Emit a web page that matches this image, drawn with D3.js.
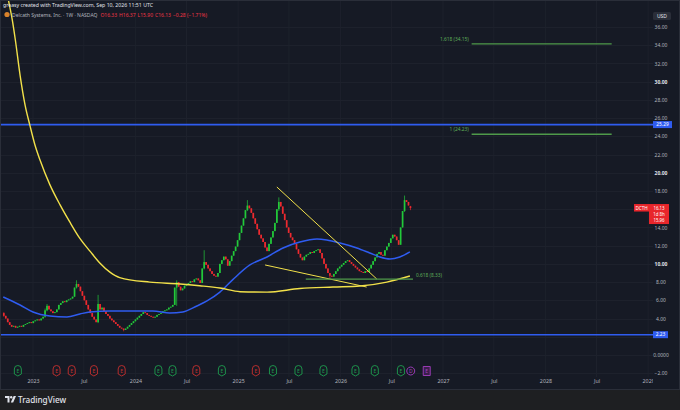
<!DOCTYPE html>
<html><head><meta charset="utf-8">
<script src="https://cdn.jsdelivr.net/npm/d3@7"></script>
<style>
html,body{margin:0;padding:0;background:#161a25;overflow:hidden}
svg{display:block;font-family:"Noto Sans","DejaVu Sans",sans-serif}
</style>
</head><body><svg id="c" width="680" height="410"></svg>
<script>
// ---------------- DATA ----------------
const ticker = "DCTH";
const titleText = "Delcath Systems, Inc. · 1W · NASDAQ";
const creditText = "greasy created with TradingView.com, Sep 10, 2026 11:51 UTC";
const firstWeek = "2022-09-19";
const firstOpen = 4.6;
// weekly closes (index 0 .. 206), last bar given separately
const closes = [
  4.3, 4.0, 3.6, 3.3, 3.1,
  3.2, 3.0, 3.1, 3.2, 3.1, 3.3,
  3.4, 3.5, 3.6, 3.5, 3.7, 3.8, 3.9, 3.8, 4.0, 4.2,
  4.9, 5.4, 5.0,
  4.8, 4.6, 4.7, 5.0,
  5.5, 5.7, 5.9, 5.8, 6.0, 6.1, 6.2, 6.4,
  7.4, 7.8, 7.5,
  7.0, 6.5, 6.0, 5.5, 5.0, 4.6, 4.2, 3.9, 3.6,
  5.6, 5.0, 5.2,
  4.8, 4.5, 4.3, 4.0, 3.8, 3.6, 3.4, 3.2, 3.0, 2.9, 2.75,
  2.9, 3.1, 3.3, 3.5, 3.7, 3.9, 4.1, 4.3, 4.5, 4.7,
  4.6, 4.4, 4.3, 4.2, 4.1, 4.2,
  4.4, 4.5, 4.6, 4.8, 4.9, 5.0, 5.2, 5.3, 5.5,
  7.4, 8.0,
  7.5, 7.1, 7.3,
  7.6, 7.8, 7.9, 8.1, 8.0, 8.3, 8.4, 8.2, 7.9,
  9.5, 10.2, 9.9,
  9.5, 9.2, 8.9, 8.7, 8.6, 9.0,
  10.0, 10.4, 10.8, 10.5,
  9.8,
  10.3, 10.9, 11.4, 11.9,
  12.6, 13.4, 14.2,
  15.0, 15.9, 16.4, 16.1,
  15.6, 15.0, 14.4, 13.8, 13.2, 12.8, 12.4,
  11.8, 11.4,
  12.2, 12.9, 13.6, 14.5,
  16.0, 16.8, 16.3,
  15.5, 14.8, 14.0, 13.4, 12.9, 12.6,
  12.2, 11.6, 11.1, 10.7, 10.4,
  10.8, 11.0, 11.1, 11.3, 11.2, 11.4, 11.5, 11.6,
  11.2, 10.6, 10.0, 9.5, 9.0, 8.7, 8.6,
  8.9, 9.2, 9.5, 9.7, 9.9, 10.1, 10.3, 10.4,
  10.2, 10.0, 9.8, 9.6, 9.4, 9.2, 9.1,
  9.0, 9.2, 9.1,
  9.5, 9.9, 10.3, 10.7, 11.1,
  11.3, 11.0, 10.9,
  11.5, 11.9, 12.3, 12.8, 13.2, 13.0, 12.6, 12.1,
  14.0, 15.8, 17.0, 16.8, 16.41
];
// notable wicks: index -> [high, low]
const wicks = {0:[4.7,4.2], 21:[5.1,4.1], 22:[5.6,4.8], 37:[8.2,7.3], 48:[6.6,3.5], 61:[2.9,2.6],
  88:[8.2,5.4], 102:[11.5,9.4], 124:[17.0,15.8], 140:[17.3,15.8], 166:[8.8,8.4], 204:[17.5,15.7]};
const lastBar = {open:16.33, high:16.37, low:15.90, close:16.13, change:-0.28, pct:-1.71};
const sideTags = ["16.13", "1d 8h", "15.96"];

// slow moving average (yellow)
const maSlow = [
  ["2022-10-05",39.0],["2022-10-19",36.8],["2022-10-30",34.6],["2022-11-16",30.7],["2022-12-04",27.4],
  ["2022-12-21",25.2],["2023-01-08",23.05],["2023-01-26",21.4],["2023-03-02",18.7],["2023-04-07",16.5],
  ["2023-05-12",14.6],["2023-06-17",12.8],["2023-07-23",11.4],["2023-08-27",10.1],["2023-10-02",9.1],
  ["2023-11-06",8.5],["2024-02-21",8.0],["2024-06-08",7.8],["2024-08-17",7.6],["2024-10-28",7.35],
  ["2025-01-08",6.95],["2025-04-14",6.9],["2025-08-09",7.3],["2025-12-05",7.46],["2026-03-11",7.57],
  ["2026-06-15",8.0],["2026-09-05",8.67]
];
// fast moving average (blue)
const maFast = [
  ["2022-09-17",6.37],["2022-11-16",5.49],["2023-01-01",4.72],["2023-03-02",4.28],["2023-05-02",4.17],
  ["2023-06-17",4.5],["2023-07-23",4.72],["2023-10-02",4.83],["2023-12-23",4.83],["2024-03-03",4.83],
  ["2024-05-03",4.61],["2024-06-18",4.72],["2024-08-07",5.38],["2024-09-12",5.93],["2024-10-28",6.9],
  ["2024-12-14",8.3],["2025-02-12",9.88],["2025-04-14",10.76],["2025-06-10",11.75],["2025-08-09",12.4],
  ["2025-10-09",12.73],["2025-11-13",12.62],["2025-12-30",12.29],["2026-02-28",11.75],["2026-04-15",11.2],
  ["2026-05-21",10.76],["2026-06-26",10.54],["2026-07-31",10.76],["2026-09-05",11.31]
];
const hLines = [25.29, 2.23];
const fibs = [
  {label:"0.618 (8.33)", value:8.33, from:"2025-08-30", to:"2026-09-16", labelSide:"right"},
  {label:"1 (24.23)", value:24.23, from:"2027-04-13", to:"2028-08-24", labelSide:"left"},
  {label:"1.618 (34.15)", value:34.15, from:"2027-04-13", to:"2028-08-24", labelSide:"left"}
];
const trendLines = [
  [["2025-05-19",18.44],["2026-05-10",8.34]],
  [["2025-04-07",9.88],["2026-04-04",7.46]]
];
const events = [
  ["2022-11-08","E","up"],["2023-03-26","E","down"],["2023-05-19","E","down"],["2023-08-06","E","down"],
  ["2023-11-13","E","down"],["2024-03-23","E","up"],["2024-05-12","E","up"],["2024-08-05","E","down"],
  ["2024-11-04","E","up"],["2025-03-05","E","down"],["2025-05-05","E","up"],["2025-08-04","E","up"],
  ["2025-11-01","E","up"],["2026-02-23","E","up"],["2026-05-03","E","up"],["2026-08-04","E","up"],
  ["2026-09-08","D","other"],["2026-11-04","E","future"]
];
const gridTicks = [36,34,32,30,28,26,24,22,20,18,16,14,12,10,8,6,4,2,0,-2];
// labels shown on the price scale (16 and 2 are hidden behind price tags)
const priceTicks = [36,34,32,30,28,26,24,22,20,18,14,12,10,8,6,4,0,-2];
const timeTicks = ["2023-01-01","2023-07-01","2024-01-01","2024-07-01","2025-01-01","2025-07-01",
  "2026-01-01","2026-07-01","2027-01-01","2027-07-01","2028-01-01","2028-07-01","2029-01-01"];
const timeTickLabels = ["2023","Jul","2024","Jul","2025","Jul","2026","Jul","2027","Jul","2028","Jul","2029"];

// ---------------- CHART ----------------
const W = 680, H = 410;
const plotRight = 653, plotBottom = 377;
const svg = d3.select("#c");
const parse = d3.utcParse("%Y-%m-%d");
const x = d3.scaleUtc().domain([parse("2023-01-01"), parse("2027-01-01")]).range([33, 443]);
const y = d3.scaleLinear().domain([0, 36]).range([355, 27]);

const C = {bg:"#161a25", grid:"#1d212c", text:"#b2b5be", up:"#22c93a", down:"#ee2a2f",
  yellow:"#f2e14a", blue:"#2f5cf0", fib:"#4f9a4a"};

svg.append("rect").attr("width", W).attr("height", H).attr("fill", C.bg);

const defs = svg.append("defs");
defs.append("clipPath").attr("id","plotclip").append("rect")
  .attr("x",0).attr("y",0).attr("width",plotRight).attr("height",plotBottom);
defs.append("clipPath").attr("id","xclip").append("rect")
  .attr("x",0).attr("y",plotBottom).attr("width",plotRight).attr("height",14);

// grid
const grid = svg.append("g").attr("clip-path","url(#plotclip)");
grid.selectAll(".vg").data(timeTicks).join("line")
  .attr("x1", d => x(parse(d))).attr("x2", d => x(parse(d)))
  .attr("y1", 0).attr("y2", plotBottom).attr("stroke", C.grid).attr("stroke-width", 1);
grid.selectAll(".hg").data(gridTicks).join("line")
  .attr("x1", 0).attr("x2", plotRight)
  .attr("y1", d => Math.round(y(d)) + 0.5).attr("y2", d => Math.round(y(d)) + 0.5)
  .attr("stroke", C.grid).attr("stroke-width", 1);

// candles
const start = parse(firstWeek);
const bars = closes.map((c, i) => {
  const o = i === 0 ? firstOpen : closes[i - 1];
  const w = wicks[i];
  return {date: d3.utcDay.offset(start, 7 * i), o, c,
    h: w && w[0] != null ? w[0] : Math.max(o, c), l: w && w[1] != null ? w[1] : Math.min(o, c)};
});
bars.push({date: d3.utcDay.offset(start, 7 * closes.length), o:lastBar.open, c:lastBar.close, h:lastBar.high, l:lastBar.low});

const plot = svg.append("g").attr("clip-path","url(#plotclip)");
const bw = 1.7;
const cg = plot.append("g");
cg.selectAll(".wick").data(bars).join("line")
  .attr("x1", d => x(d.date)).attr("x2", d => x(d.date))
  .attr("y1", d => y(d.h)).attr("y2", d => y(d.l))
  .attr("stroke", d => d.c >= d.o ? C.up : C.down).attr("stroke-width", 0.7);
cg.selectAll(".body").data(bars).join("rect")
  .attr("x", d => x(d.date) - bw / 2).attr("width", bw)
  .attr("y", d => y(Math.max(d.o, d.c)))
  .attr("height", d => Math.max(0.9, Math.abs(y(d.o) - y(d.c))))
  .attr("fill", d => d.c >= d.o ? C.up : C.down);

// horizontal lines
plot.selectAll(".hl").data(hLines).join("line")
  .attr("x1", 0).attr("x2", plotRight).attr("y1", d => y(d)).attr("y2", d => y(d))
  .attr("stroke", C.blue).attr("stroke-width", 1.6);

// moving averages
const line = d3.line().x(d => x(parse(d[0]))).y(d => y(d[1])).curve(d3.curveMonotoneX);
plot.append("path").datum(maFast).attr("d", line).attr("fill","none")
  .attr("stroke", C.blue).attr("stroke-width", 1.5);
plot.append("path").datum(maSlow).attr("d", line).attr("fill","none")
  .attr("stroke", C.yellow).attr("stroke-width", 1.4);

// trend lines
const tl = d3.line().x(d => x(parse(d[0]))).y(d => y(d[1]));
plot.selectAll(".tl").data(trendLines).join("path").attr("d", tl)
  .attr("fill","none").attr("stroke", C.yellow).attr("stroke-width", 1);

// fib levels
fibs.forEach(f => {
  plot.append("line").attr("x1", x(parse(f.from))).attr("x2", x(parse(f.to)))
    .attr("y1", y(f.value)).attr("y2", y(f.value)).attr("stroke", C.fib).attr("stroke-width", 1.3);
  const t = plot.append("text").attr("font-size", 4.8).attr("fill", "#5fae5a").text(f.label);
  if (f.labelSide === "right") t.attr("x", x(parse(f.to)) + 3).attr("y", y(f.value) - 2);
  else t.attr("x", x(parse(f.from)) - 3).attr("text-anchor", "end").attr("y", y(f.value) - 3);
});

// events
const evColor = {up:"#1e9e4f", down:"#c7302f", other:"#a43ec2", future:"#a43ec2"};
const evg = plot.selectAll(".ev").data(events).join("g")
  .attr("transform", d => `translate(${x(parse(d[0]))},371)`);
evg.append("path")
  .attr("d", d => d[2] === "other"
    ? "M0,-4 A4,4 0 1 1 -0.01,-4 Z"
    : d[2] === "future" ? "M-3.5,-4.5 H3.5 V4.5 H-3.5 Z"
    : "M-3.5,-2 A3.5,3.5 0 0 1 3.5,-2 V3 L0,5 L-3.5,3 Z")
  .attr("fill", d => d[2] === "future" ? "#3a1f4a" : "#161a25")
  .attr("stroke", d => evColor[d[2]]).attr("stroke-width", 0.9);
evg.append("text").attr("text-anchor","middle").attr("y", 1.9).attr("font-size", 5)
  .attr("fill", d => evColor[d[2]]).text(d => d[1]);

// x axis
const xAxis = d3.axisBottom(x).tickValues(timeTicks.map(parse))
  .tickFormat((d, i) => timeTickLabels[i]).tickSize(0).tickPadding(0);
const xg = svg.append("g").attr("clip-path","url(#xclip)").append("g")
  .attr("transform", `translate(0,${plotBottom})`).call(xAxis);
xg.select(".domain").remove();
xg.selectAll("text").attr("font-size", 5.3).attr("fill", C.text).attr("dy", "6.2").attr("font-family", "Noto Sans");

// y axis
const fmt = v => v === 0 ? "0.0000" : (v < 0 ? "\u2212" + Math.abs(v).toFixed(2) : v.toFixed(2));
const yAxis = d3.axisRight(y).tickValues(priceTicks).tickFormat(fmt).tickSize(0).tickPadding(0);
const yg = svg.append("g").attr("transform", "translate(661,0)").call(yAxis);
yg.select(".domain").remove();
yg.selectAll("text").attr("text-anchor","middle").attr("font-size", 5).attr("font-family","Noto Sans")
  .attr("fill", d => d % 10 === 0 && d > 0 ? "#e0e3eb" : C.text)
  .attr("font-weight", d => d % 10 === 0 && d > 0 ? "bold" : "normal");

// USD box
svg.append("rect").attr("x",653).attr("y",12).attr("width",18).attr("height",8).attr("rx",1.5).attr("fill","#2a2e39");
svg.append("text").attr("x",662).attr("y",18).attr("text-anchor","middle").attr("font-size",5)
  .attr("fill","#e0e3eb").text("USD");

// blue price tags
hLines.forEach(v => {
  const txt = v.toFixed(2);
  const w = txt.length > 4 ? 19 : 15;
  svg.append("rect").attr("x",653).attr("y", y(v) - 3.5).attr("width", w).attr("height", 7).attr("fill", C.blue);
  svg.append("text").attr("x",653 + w / 2).attr("y", y(v) + 1.8).attr("text-anchor","middle")
    .attr("font-size",4.8).attr("fill","#fff").text(txt);
});

// red last-price tags
const ly = y(lastBar.close);
svg.append("rect").attr("x",634).attr("y", ly - 4).attr("width",15).attr("height",7.5).attr("fill", "#e8262b");
svg.append("text").attr("x",641.5).attr("y", ly + 1.8).attr("text-anchor","middle").attr("font-size",4.6)
  .attr("fill","#fff").text(ticker);
svg.append("rect").attr("x",649).attr("y", ly - 4).attr("width",20).attr("height",20).attr("fill", "#e8262b");
sideTags.forEach((t, i) => {
  svg.append("text").attr("x",659).attr("y", ly + 1.8 + i * 6.3).attr("text-anchor","middle")
    .attr("font-size",4.4).attr("fill","#fff").text(t);
});

// header
svg.append("text").attr("x",3).attr("y",7).attr("font-size",5.2).attr("fill","#e0e3eb").text(creditText);
svg.append("circle").attr("cx",7).attr("cy",14.5).attr("r",2.6).attr("fill","#d9822b");
const h2 = svg.append("text").attr("x",12).attr("y",16.5).attr("font-size",5).attr("fill", C.text);
h2.append("tspan").text(titleText);
const red = "#f23645";
h2.append("tspan").attr("dx",3).attr("fill",red).text("O" + lastBar.open.toFixed(2));
h2.append("tspan").attr("dx",2).attr("fill",red).text("H" + lastBar.high.toFixed(2));
h2.append("tspan").attr("dx",2).attr("fill",red).text("L" + lastBar.low.toFixed(2));
h2.append("tspan").attr("dx",2).attr("fill",red).text("C" + lastBar.close.toFixed(2));
h2.append("tspan").attr("dx",2).attr("fill",red)
  .text("\u2212" + Math.abs(lastBar.change).toFixed(2) + " (\u2212" + Math.abs(lastBar.pct).toFixed(2) + "%)");

// frame + bottom band
svg.append("rect").attr("x",0.5).attr("y",0.5).attr("width",W - 1).attr("height",389)
  .attr("fill","none").attr("stroke","#2a2e39").attr("stroke-width",1);
svg.append("rect").attr("x",0).attr("y",390).attr("width",W).attr("height",20).attr("fill","#1e1f22");
const logo = svg.append("g").attr("transform","translate(5,396)");
logo.append("path").attr("d","M0,0 H4.5 V6.5 H2.5 V2 H0 Z").attr("fill","#e0e3eb");
logo.append("circle").attr("cx",6.2).attr("cy",1.2).attr("r",1.2).attr("fill","#e0e3eb");
logo.append("path").attr("d","M8.6,0 H11 L8.2,6.5 H5.8 Z").attr("fill","#e0e3eb");
svg.append("text").attr("x",18).attr("y",402.5).attr("font-size",8.2).attr("font-weight",500)
  .attr("fill","#e0e3eb").text("TradingView");
</script>
</body></html>
